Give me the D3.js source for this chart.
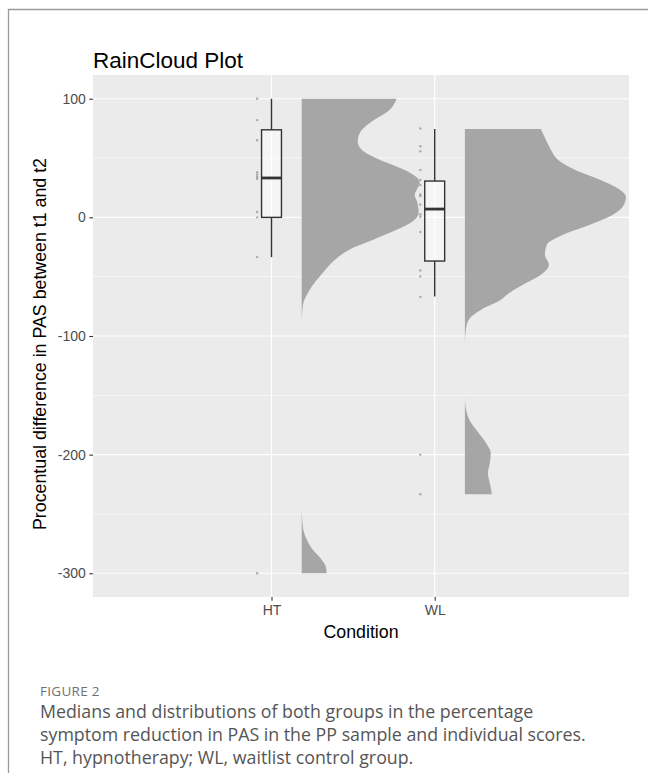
<!DOCTYPE html>
<html>
<head>
<meta charset="utf-8">
<script src="https://cdn.jsdelivr.net/npm/d3@7"></script>
<style>
  html, body { margin: 0; padding: 0; background: #fff; }
  svg { display: block; }
</style>
</head>
<body>
<svg id="chart" width="648" height="773"></svg>
<script>
// ---------------- DATA ----------------
const categories = ["HT", "WL"];

// individual scores (rain)
const htPoints = [100, 82, 65, 38, 36, 34, 32.5, 4.5, 0, -33.5, -300];
const wlPoints = [75, 60, 55.6, 40, 31.5, 27.2, 19.3, 18, 10.9, 2.4, 0.3, -12.4, -44.8, -49.8, -67, -200, -233.3];

// boxplot statistics
const boxLow    = [-33.5, -66.7];
const boxQ1     = [0, -36.8];
const boxMedian = [33.2, 7];
const boxQ3     = [73.8, 30.6];
const boxHigh   = [100, 74.5];

// half-violin density profiles (value, relative density)
const htViolinValue   = [100, 90.7, 79.5, 71, 64, 57, 48.6, 40, 33, 29, 23, 19, 12, 3.6, -3.4, -10.5, -19, -27, -36, -47, -61, -75, -90,
                         -243, -260, -271.5, -280, -288.5, -294, -300];
const htViolinDensity = [0.590, 0.547, 0.422, 0.360, 0.348, 0.373, 0.484, 0.640, 0.720, 0.733, 0.714, 0.702, 0.720, 0.727, 0.689, 0.590, 0.441, 0.298, 0.205, 0.130, 0.050, 0.006, 0,
                         0, 0.006, 0.031, 0.068, 0.124, 0.149, 0.155];
const wlViolinValue   = [74.5, 65.4, 57, 48.6, 40.1, 31.7, 23.3, 17.4, 10.6, 2.2, -6.2, -14.7, -23.1, -31.5, -39.9, -48.3, -56.8, -65.2, -69.5, -78, -86, -94.6, -107,
                         -153, -170, -181, -190, -199, -207, -216, -224, -233.3];
const wlViolinDensity = [0.472, 0.503, 0.534, 0.578, 0.683, 0.839, 0.963, 1.0, 0.988, 0.919, 0.776, 0.609, 0.509, 0.497, 0.522, 0.472, 0.360, 0.261, 0.224, 0.099, 0.025, 0.006, 0,
                         0, 0.025, 0.081, 0.130, 0.161, 0.155, 0.143, 0.155, 0.168];

const yMajorTicks = [100, 0, -100, -200, -300];
const yMinorTicks = [50, -50, -150, -250];

const titleText  = "RainCloud Plot";
const xTitleText = "Condition";
const yTitleText = "Procentual difference in PAS between t1 and t2";
const figLabel   = "FIGURE 2";
const captionLines = [
  "Medians and distributions of both groups in the percentage",
  "symptom reduction in PAS in the PP sample and individual scores.",
  "HT, hypnotherapy; WL, waitlist control group."
];

// ---------------- LAYOUT ----------------
const panel = { left: 93, right: 629, top: 75, bottom: 597 };
const svg = d3.select("#chart");

svg.append("rect").attr("width", 648).attr("height", 773).attr("fill", "#fff");
// outer frame (left and top edges visible)
svg.append("path")
  .attr("d", "M8.5,800 L8.5,9.5 L660,9.5")
  .attr("fill", "none").attr("stroke", "#9a9a9a").attr("stroke-width", 1.3);

const y = d3.scaleLinear().domain([-320, 120]).range([panel.bottom, panel.top]);
// category index scale (HT = 1, WL = 2), panel expanded to hold clouds
const x = d3.scaleLinear().domain([-0.0938, 3.1906]).range([panel.left, panel.right]);
const catPos = categories.map((c, i) => i + 1);
const densityWidth = d3.scaleLinear().domain([0, 1]).range([0, 0.9865]); // in category units
const violinNudge = 0.185, rainNudge = -0.088, boxHalf = 0.061;

const g = svg.append("g");

// panel background
g.append("rect")
  .attr("x", panel.left).attr("y", panel.top)
  .attr("width", panel.right - panel.left).attr("height", panel.bottom - panel.top)
  .attr("fill", "#ebebeb");

// minor grid
g.selectAll("line.ymin").data(yMinorTicks).join("line")
  .attr("x1", panel.left).attr("x2", panel.right)
  .attr("y1", d => y(d)).attr("y2", d => y(d))
  .attr("stroke", "#fff").attr("stroke-width", 0.6);
// major grid
g.selectAll("line.ymaj").data(yMajorTicks).join("line")
  .attr("x1", panel.left).attr("x2", panel.right)
  .attr("y1", d => y(d)).attr("y2", d => y(d))
  .attr("stroke", "#fff").attr("stroke-width", 1.2);
g.selectAll("line.xmaj").data(catPos).join("line")
  .attr("x1", d => x(d)).attr("x2", d => x(d))
  .attr("y1", panel.top).attr("y2", panel.bottom)
  .attr("stroke", "#fff").attr("stroke-width", 1.2);

// violins (clouds)
const violins = [
  { cat: 1, v: htViolinValue, d: htViolinDensity },
  { cat: 2, v: wlViolinValue, d: wlViolinDensity }
];
violins.forEach(vl => {
  const pts = vl.v.map((val, i) => ({ val, den: vl.d[i] }));
  const area = d3.area()
    .y(p => y(p.val))
    .x0(() => x(vl.cat + violinNudge))
    .x1(p => x(vl.cat + violinNudge + densityWidth(p.den)))
    .curve(d3.curveMonotoneY);
  g.append("path").attr("d", area(pts)).attr("fill", "#a6a6a6");
});

// rain (points)
const rain = [
  { cat: 1, pts: htPoints },
  { cat: 2, pts: wlPoints }
];
rain.forEach(r => {
  g.selectAll(null).data(r.pts).join("circle")
    .attr("cx", x(r.cat + rainNudge))
    .attr("cy", d => y(d))
    .attr("r", 1.2)
    .attr("fill", "#8c8c8c").attr("fill-opacity", 0.7);
});

// boxplots
catPos.forEach((c, i) => {
  const bg = g.append("g");
  bg.append("line")
    .attr("x1", x(c)).attr("x2", x(c))
    .attr("y1", y(boxHigh[i])).attr("y2", y(boxQ3[i]))
    .attr("stroke", "#333").attr("stroke-width", 1.4);
  bg.append("line")
    .attr("x1", x(c)).attr("x2", x(c))
    .attr("y1", y(boxQ1[i])).attr("y2", y(boxLow[i]))
    .attr("stroke", "#333").attr("stroke-width", 1.4);
  bg.append("rect")
    .attr("x", x(c - boxHalf)).attr("width", x(c + boxHalf) - x(c - boxHalf))
    .attr("y", y(boxQ3[i])).attr("height", y(boxQ1[i]) - y(boxQ3[i]))
    .attr("fill", "#fff").attr("fill-opacity", 0.5)
    .attr("stroke", "#333").attr("stroke-width", 1.4);
  bg.append("line")
    .attr("x1", x(c - boxHalf)).attr("x2", x(c + boxHalf))
    .attr("y1", y(boxMedian[i])).attr("y2", y(boxMedian[i]))
    .attr("stroke", "#333").attr("stroke-width", 2.8);
});

// axes
const sans = "'Liberation Sans', Arial, sans-serif";
const yAxis = d3.axisLeft(y).tickValues(yMajorTicks).tickFormat(d => String(d)).tickSize(3.7).tickPadding(3.5);
const yAx = svg.append("g").attr("transform", `translate(${panel.left},0)`).call(yAxis);
const xAxis = d3.axisBottom(x).tickValues(catPos).tickFormat((d, i) => categories[i]).tickSize(3.7).tickPadding(4);
const xAx = svg.append("g").attr("transform", `translate(0,${panel.bottom})`).call(xAxis);
[yAx, xAx].forEach(a => {
  a.select(".domain").remove();
  a.selectAll(".tick line").attr("stroke", "#333").attr("stroke-width", 1.1);
  a.selectAll(".tick text").attr("fill", "#4d4d4d")
    .style("font-family", sans).style("font-size", "14px");
});

// titles
svg.append("text").attr("x", panel.left).attr("y", 68)
  .style("font-family", sans).style("font-size", "22.5px").attr("fill", "#000")
  .text(titleText);
svg.append("text").attr("x", (panel.left + panel.right) / 2).attr("y", 638)
  .attr("text-anchor", "middle")
  .style("font-family", sans).style("font-size", "17.8px").attr("fill", "#000")
  .text(xTitleText);
svg.append("text")
  .attr("transform", `translate(46,${(panel.top + panel.bottom) / 2 + 8}) rotate(-90)`)
  .attr("text-anchor", "middle")
  .style("font-family", sans).style("font-size", "17.8px").attr("fill", "#000")
  .text(yTitleText);

// caption
svg.append("text").attr("x", 40).attr("y", 696)
  .style("font-family", "'Open Sans', sans-serif").style("font-size", "13.5px")
  .style("letter-spacing", "0.3px").attr("fill", "#707070")
  .text(figLabel);
svg.selectAll("text.cap").data(captionLines).join("text")
  .attr("class", "cap")
  .attr("x", 40).attr("y", (d, i) => 718 + i * 23)
  .style("font-family", "'Open Sans', sans-serif").style("font-size", "17.8px")
  .attr("fill", "#555")
  .text(d => d);
</script>
</body>
</html>
